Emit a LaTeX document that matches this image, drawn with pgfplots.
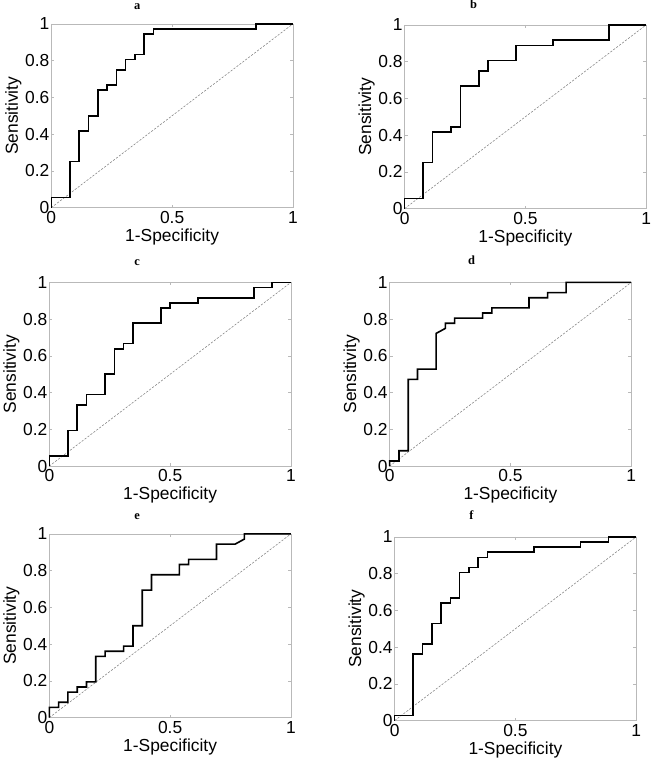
\documentclass[border=0pt]{standalone}
\usepackage{fontspec}
\setmainfont{Liberation Sans}
\newfontfamily\tnr{Liberation Serif}
\usepackage{pgfplots}
\pgfplotsset{compat=1.18}

\pgfplotsset{
  roc/.style={
    scale only axis, width=242bp, height=184bp,
    xmin=0, xmax=1, ymin=0, ymax=1,
    xtick={0,0.5,1}, ytick={0,0.2,0.4,0.6,0.8,1},
    tick align=inside,
    axis line style={draw=gray!55, line width=0.6bp},
    tick style={draw=gray!55, line width=0.5bp},
    major tick length=3bp,
    /pgf/number format/assume math mode=true,
    ticklabel style={font=\fontsize{17.5}{20}\selectfont},
    yticklabel style={xshift=1.5bp},
    label style={font=\fontsize{17.5}{20}\selectfont},
    xlabel={1-Specificity}, ylabel={Sensitivity},
    xlabel style={at={(axis description cs:0.5,-0.158)}, anchor=center},
    ylabel style={at={(axis description cs:-0.157,0.5)}, anchor=center},
    clip=false,
  },
  curve/.style={black, line width=1.6bp, no markers},
  chance/.style={gray, line width=0.55bp, dash pattern=on 2.2bp off 1.5bp, no markers},
}
\newcommand{\paneltitle}[3]{\node[anchor=base, font=\tnr\bfseries\fontsize{12.5}{13}\selectfont, inner sep=0pt] at (#1bp,#2bp) {#3};}

\begin{document}
\begin{tikzpicture}
\path (0,0) rectangle (648bp,761bp);

% a
\begin{axis}[roc, at={(49bp,553bp)}, anchor=south west]
\addplot[chance] coordinates {(0,0) (1,1)};
\addplot[curve] coordinates {(0,0) (0,0.0556) (0.0769,0.0556) (0.0769,0.25) (0.1154,0.25) (0.1154,0.4167) (0.1538,0.4167) (0.1538,0.5) (0.1923,0.5) (0.1923,0.6389) (0.2308,0.6389) (0.2308,0.6667) (0.2692,0.6667) (0.2692,0.75) (0.3077,0.75) (0.3077,0.8056) (0.3462,0.8056) (0.3462,0.8333) (0.3846,0.8333) (0.3846,0.9444) (0.4231,0.9444) (0.4231,0.9722) (0.8462,0.9722) (0.8462,1) (1,1)};
\end{axis}

% b
\begin{axis}[roc, at={(403bp,552bp)}, anchor=south west]
\addplot[chance] coordinates {(0,0) (1,1)};
\addplot[curve] coordinates {(0,0) (0,0.0556) (0.0769,0.0556) (0.0769,0.25) (0.1154,0.25) (0.1154,0.4167) (0.1923,0.4167) (0.1923,0.4444) (0.2308,0.4444) (0.2308,0.6667) (0.3077,0.6667) (0.3077,0.75) (0.3462,0.75) (0.3462,0.8056) (0.4615,0.8056) (0.4615,0.8889) (0.6154,0.8889) (0.6154,0.9167) (0.8462,0.9167) (0.8462,1) (1,1)};
\end{axis}

% c
\begin{axis}[roc, at={(47bp,294bp)}, anchor=south west]
\addplot[chance] coordinates {(0,0) (1,1)};
\addplot[curve] coordinates {(0,0) (0,0.0556) (0.0769,0.0556) (0.0769,0.1944) (0.1154,0.1944) (0.1154,0.3333) (0.1538,0.3333) (0.1538,0.3889) (0.2308,0.3889) (0.2308,0.5) (0.2692,0.5) (0.2692,0.6389) (0.3077,0.6389) (0.3077,0.6667) (0.3462,0.6667) (0.3462,0.7778) (0.4615,0.7778) (0.4615,0.8611) (0.5,0.8611) (0.5,0.8889) (0.6154,0.8889) (0.6154,0.9167) (0.8462,0.9167) (0.8462,0.9722) (0.9231,0.9722) (0.9231,1) (1,1)};
\end{axis}

% d
\begin{axis}[roc, at={(388bp,294bp)}, anchor=south west]
\addplot[chance] coordinates {(0,0) (1,1)};
\addplot[curve] coordinates {(0,0) (0,0.0278) (0.0385,0.0278) (0.0385,0.0833) (0.0769,0.0833) (0.0769,0.4722) (0.1154,0.4722) (0.1154,0.5278) (0.1923,0.5278) (0.1923,0.7222) (0.2308,0.75) (0.2308,0.7778) (0.2692,0.7778) (0.2692,0.8056) (0.3846,0.8056) (0.3846,0.8333) (0.4231,0.8333) (0.4231,0.8611) (0.5769,0.8611) (0.5769,0.9167) (0.6538,0.9167) (0.6538,0.9444) (0.7308,0.9444) (0.7308,1) (1,1)};
\end{axis}

% e
\begin{axis}[roc, at={(47bp,42bp)}, anchor=south west]
\addplot[chance] coordinates {(0,0) (1,1)};
\addplot[curve] coordinates {(0,0) (0,0.0556) (0.0385,0.0556) (0.0385,0.0833) (0.0769,0.0833) (0.0769,0.1389) (0.1154,0.1389) (0.1154,0.1667) (0.1538,0.1667) (0.1538,0.1944) (0.1923,0.1944) (0.1923,0.3333) (0.2308,0.3333) (0.2308,0.3611) (0.3077,0.3611) (0.3077,0.3889) (0.3462,0.3889) (0.3462,0.5) (0.3846,0.5) (0.3846,0.6944) (0.4231,0.6944) (0.4231,0.7778) (0.5385,0.7778) (0.5385,0.8333) (0.5769,0.8333) (0.5769,0.8611) (0.6923,0.8611) (0.6923,0.9444) (0.7692,0.9444) (0.8077,0.9722) (0.8077,1) (1,1)};
\end{axis}

% f
\begin{axis}[roc, at={(393bp,39bp)}, anchor=south west]
\addplot[chance] coordinates {(0,0) (1,1)};
\addplot[curve] coordinates {(0,0) (0,0.0278) (0.0769,0.0278) (0.0769,0.3611) (0.1154,0.3611) (0.1154,0.4167) (0.1538,0.4167) (0.1538,0.5278) (0.1923,0.5278) (0.1923,0.6389) (0.2308,0.6389) (0.2308,0.6667) (0.2692,0.6667) (0.2692,0.8056) (0.3077,0.8056) (0.3077,0.8333) (0.3462,0.8333) (0.3462,0.8889) (0.3846,0.8889) (0.3846,0.9167) (0.5769,0.9167) (0.5769,0.9444) (0.7692,0.9444) (0.7692,0.9722) (0.8846,0.9722) (0.8846,1) (1,1)};
\end{axis}

\paneltitle{135}{751}{a}
\paneltitle{472}{752}{b}
\paneltitle{135}{495}{c}
\paneltitle{470}{496}{d}
\paneltitle{135}{240}{e}
\paneltitle{470}{240}{f}
\end{tikzpicture}
\end{document}
